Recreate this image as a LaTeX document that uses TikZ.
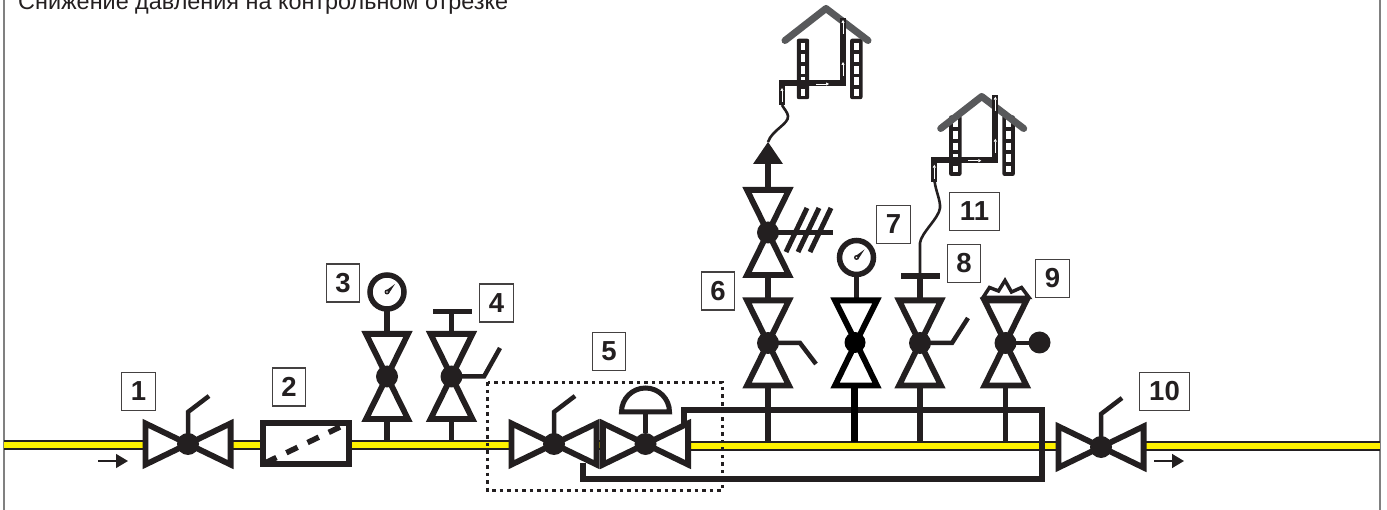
\documentclass[tikz,border=0pt]{standalone}
\usepackage{fontspec}
\setmainfont{Liberation Sans}
\usetikzlibrary{arrows.meta}
\definecolor{pipeblack}{HTML}{231F20}
\definecolor{pipeyellow}{HTML}{FFF200}
\definecolor{roofgray}{HTML}{58595B}
\tikzset{
  pipeline/.style={line width=#1,color=pipeblack},
  body/.style={line width=5.8pt,color=pipeblack,fill=white,miter limit=10},
  hub/.style={fill=pipeblack,draw=none},
  numbox/.style={draw=pipeblack!85,line width=1.1pt,fill=white,inner sep=0pt,
    minimum height=38pt,font=\fontsize{27.5}{27.5}\selectfont\bfseries,text=pipeblack},
  flowarrow/.style={line width=1.5pt,color=pipeblack,-{Triangle[length=12pt,width=14pt]}},
  roofline/.style={line width=7pt,color=roofgray,line cap=round,line join=round},
  riser/.style={line width=5.8pt,color=pipeblack},
  thinarrow/.style={line width=.6pt,color=white,-{Triangle[length=3pt,width=3pt]}},
  hose/.style={line width=2.6pt,color=pipeblack}
}
% valve lying along the pipe
\newcommand{\hvalve}[3]{
  \draw[body] (#2-42.6,#3-20.6) -- (#2-42.6,#3+20.6) -- (#2,#3) -- cycle;
  \draw[body] (#2+42.6,#3-20.6) -- (#2+42.6,#3+20.6) -- (#2,#3) -- cycle;
  \node[hub,circle,minimum size=22pt,inner sep=0pt] (#1) at (#2,#3) {};
}
% valve standing on the pipe
\newcommand{\vvalve}[3]{
  \draw[body] (#2-21,#3-42.6) -- (#2+21,#3-42.6) -- (#2,#3) -- cycle;
  \draw[body] (#2-21,#3+42.6) -- (#2+21,#3+42.6) -- (#2,#3) -- cycle;
  \node[hub,circle,minimum size=22pt,inner sep=0pt] (#1) at (#2,#3) {};
}
% pressure gauge
\newcommand{\gauge}[3]{
  \node[circle,draw=pipeblack,line width=5.5pt,fill=white,minimum size=34pt,inner sep=0pt] (#1) at (#2,#3) {};
  \fill[pipeblack] (#2-1.5,#3-1) -- (#2+8,#3-8) -- (#2+1.5,#3+2) -- cycle;
  \fill[pipeblack] (#2,#3) circle (2.5pt);
  \fill[white] (#2,#3) circle (.8pt);
}
% radiator
\newcommand{\radiator}[2]{
  \fill[pipeblack,rounded corners=2pt] (#1-6.2,#2) rectangle (#1+6.2,#2+60.5);
  \draw[white,line width=4.8pt,dash pattern=on 7.8pt off 3.8pt] (#1,#2+4) -- (#1,#2+57);
}
\begin{document}
\begin{tikzpicture}[x=1pt,y=-1pt]
  \useasboundingbox (0,0) rectangle (1387,510);
  % frame and title
  \draw[gray,line width=2pt] (4,0) -- (4,510);
  \draw[gray,line width=2pt] (1380,0) -- (1380,510);
  \node[anchor=base west,inner sep=0pt,font=\fontsize{23.4}{23.4}\selectfont,text=pipeblack] (title) at (18,10) {Снижение давления на контрольном отрезке};

  % main pipe
  \coordinate (pipein) at (4,444.7);
  \coordinate (pipemida) at (600,444.7);
  \coordinate (pipemidb) at (690,446);
  \coordinate (pipeout) at (1380,446);
  \draw[pipeline=10pt] (pipein) -- (pipemida);
  \draw[pipeline=10pt] (pipemidb) -- (pipeout);
  \draw[pipeyellow,line width=6pt] (pipein) -- (pipemida);
  \draw[pipeyellow,line width=6pt] (pipemidb) -- (pipeout);

  % bypass
  \draw[pipeline=6.5pt] (583,463) -- (583,479) -- (1042,479) -- (1042,410) -- (684,410) -- (684,424);

  % stems down to the pipe
  \draw[pipeline=6.5pt] (387,419) -- (387,441);
  \draw[pipeline=5.5pt] (451.5,419) -- (451.5,441);
  \draw[pipeline=5.5pt] (768,386) -- (768,442);
  \draw[pipeline=6.5pt,black] (854.5,386) -- (854.5,442);
  \draw[pipeline=5.5pt] (920,386) -- (920,442);
  \draw[pipeline=5.5pt] (1005.5,386) -- (1005.5,442);

  % valves on the pipe
  \draw[pipeline=4.5pt] (188,444) -- (188,412) -- (209,396);
  \hvalve{vone}{188}{444}
  \draw[pipeline=4.5pt] (554,444) -- (554,412) -- (575,396);
  \hvalve{vfivea}{554}{444}
  \hvalve{vfiveb}{645.5}{444}
  \draw[pipeline=4.5pt] (1101,447) -- (1101,414) -- (1122,398);
  \hvalve{vten}{1101}{447}

  % regulator head
  \draw[pipeline=5.5pt] (vfiveb) -- (645.5,412);
  \draw[pipeline=5pt,fill=white] (621.5,412) arc (180:360:24) -- cycle;

  % filter
  \node[draw=pipeblack,line width=5.5pt,fill=white,minimum width=86pt,minimum height=41pt,inner sep=0pt] (filter) at (306,443.5) {};
  \draw[pipeline=5.5pt,dash pattern=on 12.5pt off 11pt] (340,427) -- (265,463);

  % valve 3 and 4
  \draw[pipeline=5.5pt] (387,292) -- (387,334);
  \vvalve{vthree}{387}{376.5}
  \gauge{gthree}{387}{292}
  \draw[pipeline=5.5pt] (451.5,311.5) -- (451.5,334);
  \draw[pipeline=5.5pt] (433,311.5) -- (472,311.5);
  \draw[pipeline=4.5pt] (451.5,376.5) -- (484,376.5) -- (500,348);
  \vvalve{vfour}{451.5}{376.5}

  % valve 6 with the upper one
  \draw[pipeline=6.5pt] (768,164) -- (768,190);
  \draw[pipeline=5.5pt] (768,275) -- (768,300);
  \draw[pipeline=5pt] (768,232.5) -- (833,232.5);
  \foreach \sx in {786,798,810}
    \draw[pipeline=5pt] (\sx,252) -- (\sx+21,208);
  \vvalve{vsixup}{768}{232.5}
  \draw[pipeline=4.5pt] (768,343) -- (800,343) -- (816,364);
  \vvalve{vsix}{768}{343}
  \fill[pipeblack] (768,142) -- (783,164) -- (753,164) -- cycle;

  % valve 7
  \draw[pipeline=4.5pt] (856.5,258) -- (856.5,300);
  \begin{scope}[black]
    \draw[line width=5.8pt,fill=white] (835,300.4) -- (877,300.4) -- (856,342.5) -- cycle;
    \draw[line width=5.8pt,fill=white] (835,385.6) -- (877,385.6) -- (856,342.5) -- cycle;
    \node[fill=black,circle,minimum size=21pt,inner sep=0pt] (vseven) at (855,342.5) {};
  \end{scope}
  \gauge{gseven}{856.5}{257.5}

  % valve 8
  \draw[pipeline=5.5pt] (920,276) -- (920,300);
  \draw[pipeline=5.5pt] (901,276) -- (940,276);
  \draw[pipeline=4.5pt] (920,343) -- (952,343) -- (968,318);
  \vvalve{veight}{920}{343}

  % valve 9
  \draw[pipeline=4pt] (1005,343) -- (1039,343);
  \vvalve{vnine}{1005.5}{343}
  \node[hub,circle,minimum size=22pt,inner sep=0pt] (ball) at (1039.5,342.5) {};
  \draw[pipeline=3.5pt,fill=white,line join=miter] (983,297.5) -- (989.5,287.5) -- (998.5,291) -- (1005,280.5) -- (1011.5,292) -- (1021.5,287.5) -- (1029,297.5) -- cycle;

  % houses
  \foreach \hx/\hy/\rx/\ry in {0/0/0/0,152.3/76.7/155.7/88}{
    \begin{scope}[shift={(\hx,\hy)}]
      \radiator{803}{38.7}
      \radiator{856.3}{38.7}
    \end{scope}
    \draw[roofline] (785+\rx,40.5+\ry) -- (826+\rx,8.5+\ry) -- (868+\rx,40.5+\ry);
    \begin{scope}[shift={(\hx,\hy)}]
      \draw[riser] (782,105) -- (782,83.3) -- (843,83.3) -- (843,18);
      \draw[thinarrow] (782,102) -- (782,88);
      \draw[thinarrow] (816,84) -- (829,84);
      \draw[thinarrow] (843,76) -- (843,62);
      \draw[thinarrow] (843,34) -- (843,20);
    \end{scope}
  }
  \draw[hose] (768,142) .. controls (772,130) and (789,124) .. (788,116) .. controls (787.5,112) and (784,109) .. (782,105);
  \draw[hose] (920,276) -- (920,243) .. controls (921,233) and (939,218) .. (940,208) .. controls (940.5,200) and (936,192) .. (934.5,181);

  % flow direction
  \coordinate (inarrowa) at (98,461);
  \coordinate (inarrowb) at (128,461);
  \coordinate (outarrowa) at (1154,461);
  \coordinate (outarrowb) at (1184,461);
  \draw[flowarrow] (inarrowa) -- (inarrowb);
  \draw[flowarrow] (outarrowa) -- (outarrowb);

  % dotted outline round the regulator unit
  \draw[pipeline=3pt,dash pattern=on 3.5pt off 4pt] (487.5,382.5) rectangle (722,490.5);

  % numbers
  \node[numbox,minimum width=33.5pt] (lone) at (138.5,391.5) {1};
  \node[numbox,minimum width=33.5pt] (ltwo) at (289,387) {2};
  \node[numbox,minimum width=33.5pt] (lthree) at (343,283) {3};
  \node[numbox,minimum width=33.5pt] (lfour) at (496.5,303) {4};
  \node[numbox,minimum width=33.5pt] (lfive) at (609,351.5) {5};
  \node[numbox,minimum width=33.5pt] (lsix) at (718,291) {6};
  \node[numbox,minimum width=33.5pt] (lseven) at (893.5,224.5) {7};
  \node[numbox,minimum width=33.5pt] (leight) at (964,263.5) {8};
  \node[numbox,minimum width=33.5pt] (lnine) at (1052.5,278.5) {9};
  \node[numbox,minimum width=49.5pt] (lten) at (1164.5,391.5) {10};
  \node[numbox,minimum width=49.5pt] (leleven) at (974.5,211.5) {11};
\end{tikzpicture}
\end{document}
